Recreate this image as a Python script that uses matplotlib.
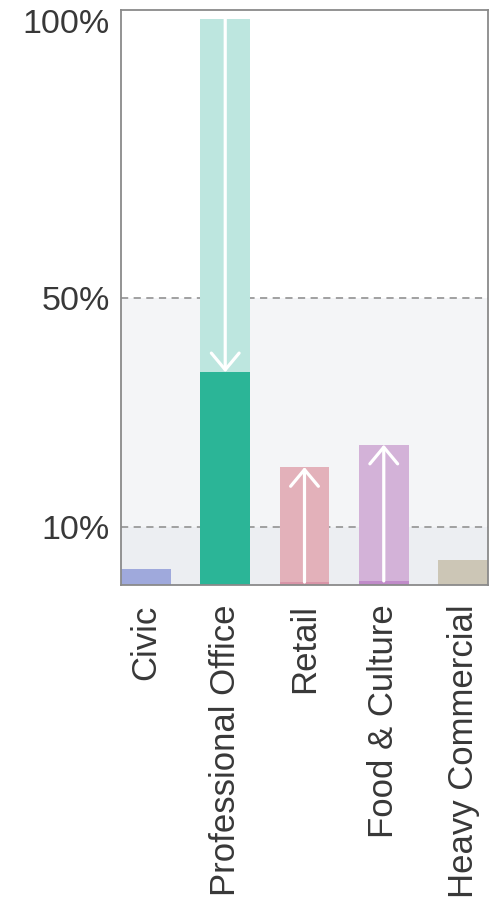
import matplotlib.pyplot as plt
import matplotlib.transforms as mtransforms

plt.rcParams['font.family'] = ['Liberation Sans', 'DejaVu Sans']

categories = ["Civic", "Professional Office", "Retail", "Food & Culture", "Heavy Commercial"]
before = [2.8, 98.5, 0.5, 0.7, 4.4]
after = [2.8, 37.0, 20.5, 24.4, 4.4]
light_colors = ["#9fa9dc", "#bde6df", "#e3b1ba", "#d3b2d8", "#ccc6b6"]
dark_colors = ["#9fa9dc", "#2bb597", "#d995a8", "#c08bc9", "#ccc6b6"]
yticks = [10, 50, 100]
ytick_labels = ["10%", "50%", "100%"]

fig = plt.figure(figsize=(5, 9.14), dpi=100)
ax = fig.add_axes([0.242, 0.36, 0.734, 0.629])

# background bands
ax.axhspan(0, 10, color="#eceef2", zorder=0, lw=0)
ax.axhspan(10, 50, color="#f4f5f7", zorder=0, lw=0)
for y in (10, 50):
    ax.axhline(y, color="#9a9a9a", lw=1.3, ls=(0, (4, 3)), zorder=1)

x = range(len(categories))
width = 0.63
for i in x:
    hi = max(before[i], after[i])
    lo = min(before[i], after[i])
    ax.bar(i, hi, width=width, color=light_colors[i], zorder=2, lw=0)
    if hi != lo:
        ax.bar(i, lo, width=width, color=dark_colors[i], zorder=3, lw=0)
        ax.annotate("", xy=(i, after[i]), xytext=(i, before[i]),
                    arrowprops=dict(arrowstyle="->, head_length=0.6, head_width=0.5",
                                    color="white", lw=2.3, mutation_scale=20,
                                    shrinkA=0, shrinkB=0),
                    zorder=4)

ax.set_xlim(-width / 2, len(categories) - 1 + width / 2)
ax.set_ylim(0, 100)
ax.set_yticks(yticks)
ax.set_yticklabels(ytick_labels, fontsize=24.5, color="#383838")
ax.set_xticks(list(x))
ax.set_xticklabels(categories, rotation=90, fontsize=25, color="#383838",
                   ha="center", va="top")
ax.tick_params(length=0, pad=14)
ax.tick_params(axis="y", pad=8)

# the top label sits a little below the top edge
top_label = ax.get_yticklabels()[-1]
top_label.set_transform(top_label.get_transform() +
                        mtransforms.ScaledTranslation(0, -8 / 72, fig.dpi_scale_trans))

for s in ax.spines.values():
    s.set_color("#8a8a8a")
    s.set_linewidth(1.3)
    s.set_zorder(5)

fig.savefig("out.png", dpi=100)
